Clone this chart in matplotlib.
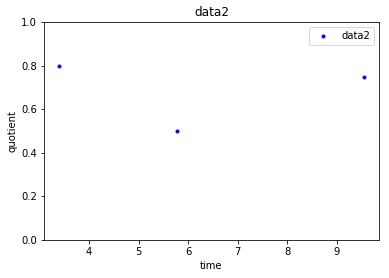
import matplotlib
matplotlib.use("Agg")
import matplotlib.pyplot as plt

time = [3.40, 5.77, 9.54]
quotient = [0.80, 0.50, 0.75]

fig = plt.figure(figsize=(389 / 72, 278 / 72), dpi=72)
ax = fig.add_axes([44 / 389, 38 / 278, 335 / 389, 218 / 278])
ax.plot(time, quotient, 'b.', label='data2')
ax.set_ylim(0, 1.0)
ax.set_xlabel("time")
ax.set_ylabel("quotient")
ax.set_title("data2")
ax.legend(loc='upper right')
fig.savefig("out.png", dpi=72)
